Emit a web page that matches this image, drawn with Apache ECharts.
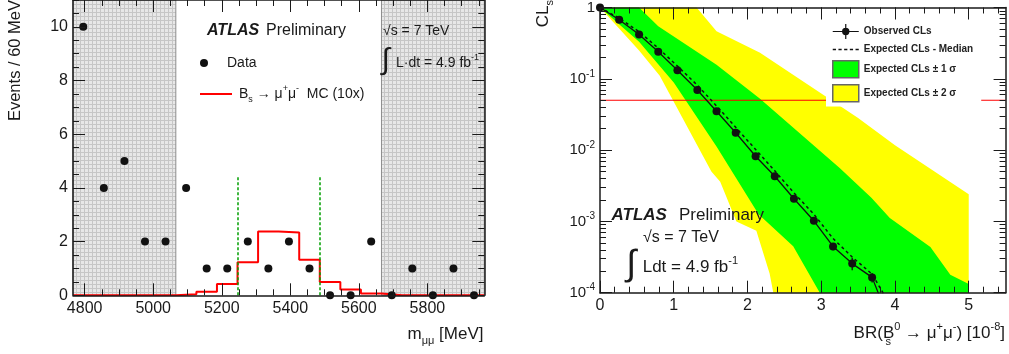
<!DOCTYPE html>
<html>
<head>
<meta charset="utf-8">
<script src="https://cdn.jsdelivr.net/npm/echarts@6/dist/echarts.min.js"></script>
<style>
  html, body { margin: 0; padding: 0; background: #fff; }
  #main { width: 1009px; height: 354px; }
</style>
</head>
<body>
<div id="main"></div>
<script>
// ---- left panel: dimuon mass spectrum ----
var massCenters = [4796, 4856, 4916, 4976, 5036, 5096, 5156, 5216, 5276, 5336, 5396, 5456, 5516, 5576, 5636, 5696, 5756, 5816, 5876, 5936];
var dataCounts = [10, 4, 5, 2, 2, 4, 1, 1, 2, 1, 2, 1, 0, 0, 2, 0, 1, 0, 1, 0];
var mcEdges = [4766, 4826, 4886, 4946, 5006, 5066, 5126, 5186, 5246, 5306, 5366, 5426, 5486, 5546, 5606, 5666, 5726, 5786, 5846, 5906, 5966];
var mcValues = [0, 0, 0, 0, 0, 0.04, 0.13, 0.42, 1.23, 2.38, 2.34, 1.32, 0.5, 0.22, 0.07, 0, 0, 0, 0, 0];
var sidebands = [[4766, 5066], [5666, 5966]];
var signalWindow = [5246, 5486];
var windowTop = 4.4;
var massTicks = [4800, 5000, 5200, 5400, 5600, 5800];
var countTicks = [0, 2, 4, 6, 8, 10];

// ---- right panel: CLs scan ----
var brPoints = [0, 0.26, 0.53, 0.79, 1.05, 1.32, 1.58, 1.84, 2.11, 2.37, 2.63, 2.9, 3.16, 3.42, 3.69, 3.95];
var clsObserved = [1, 0.673, 0.417, 0.24, 0.132, 0.0697, 0.035, 0.0175, 0.0082, 0.0043, 0.00208, 0.00102, 0.000445, 0.000256, 0.000164, 0.000034];
var clsObservedErr = [0, 0, 0, 0, 0, 0, 0, 0, 0, 0, 0, 0, 0.00005, 0.00005, 0.000025, 0];
var clsExpected = [1, 0.708, 0.457, 0.269, 0.151, 0.0813, 0.0417, 0.0209, 0.0102, 0.00513, 0.00251, 0.00126, 0.000575, 0.000316, 0.000182, 0.000063];

var band2UpX = [0, 1.31, 1.58, 2.17, 3.5, 4.0, 5.0];
var band2Up = [1, 1, 0.465, 0.232, 0.0282, 0.0117, 0.0024];
var band1UpX = [0, 0.53, 0.79, 1.58, 2.17, 3.25, 3.68, 3.93, 4.48, 4.75, 5.0];
var band1Up = [1, 1, 0.545, 0.158, 0.0525, 0.00562, 0.00214, 0.00112, 0.000437, 0.000178, 0.000132];
var band1LoX = [0, 0.53, 1.0, 1.58, 2.15, 2.62, 2.98, 5.0];
var band1Lo = [1, 0.33, 0.089, 0.0112, 0.00126, 0.000447, 0.0001, 0.0001];
var band2LoX = [0, 0.53, 0.81, 1.51, 1.63, 1.85, 2.12, 2.30, 2.35, 5.0];
var band2Lo = [1, 0.25, 0.11, 0.005, 0.0036, 0.001, 0.00074, 0.000186, 0.0001, 0.0001];
var clLimit = 0.05;
var brTicks = [0, 1, 2, 3, 4, 5];
var clsTicks = [0.0001, 0.001, 0.01, 0.1, 1];

var FONT = '"Liberation Sans", Arial, Helvetica, sans-serif';
var INK = '#1a1a1a';

// minor tick positions
var massMinor = [];
for (var m = 4800; m < 5966; m += 50) massMinor.push(m);
var countMinor = [];
for (var c = 0; c <= 11; c += 0.5) countMinor.push(c);
var brMinor = [];
for (var b = 0; b <= 27; b++) brMinor.push(b * 0.2);
var clsMinor = [];
for (var d = -4; d < 0; d++) for (var k = 2; k <= 9; k++) clsMinor.push(k * Math.pow(10, d));

// grey sideband fill pattern
var hatch = document.createElement('canvas');
hatch.width = 4; hatch.height = 4;
var hc = hatch.getContext('2d');
hc.fillStyle = '#e7e7e7'; hc.fillRect(0, 0, 4, 4);
hc.fillStyle = '#c6c6c6'; hc.fillRect(0, 0, 4, 1); hc.fillRect(0, 0, 1, 4);

function axis(grid, pos, type, min, max, ticks, len, withLine, labels, extra) {
  var a = {
    gridIndex: grid, position: pos, type: type, min: min, max: max, z: 10,
    axisLine: { show: withLine, onZero: false, lineStyle: { color: INK, width: 1.5 } },
    axisTick: { show: true, inside: true, length: len, customValues: ticks, lineStyle: { color: INK, width: 1 } },
    axisLabel: labels ? labels : { show: false },
    splitLine: { show: false }
  };
  if (type === 'log') a.logBase = 10;
  return Object.assign(a, extra || {});
}

function plainLabels(values) {
  return {
    customValues: values, fontSize: 16, fontFamily: FONT, color: INK, margin: 5,
    formatter: function (v) { return String(v); }
  };
}

var xAxes = [
  axis(0, 'bottom', 'value', 4766, 5966, massTicks, 12, true, plainLabels(massTicks)),
  axis(0, 'bottom', 'value', 4766, 5966, massMinor, 6, false),
  axis(0, 'top', 'value', 4766, 5966, massTicks, 12, true),
  axis(0, 'top', 'value', 4766, 5966, massMinor, 6, false),
  axis(1, 'bottom', 'value', 0, 5.5, brTicks, 12, true, plainLabels(brTicks)),
  axis(1, 'bottom', 'value', 0, 5.5, brMinor, 6, false),
  axis(1, 'top', 'value', 0, 5.5, brTicks, 12, true),
  axis(1, 'top', 'value', 0, 5.5, brMinor, 6, false)
];

var yAxes = [
  axis(0, 'left', 'value', 0, 11, countTicks, 12, true, plainLabels(countTicks)),
  axis(0, 'left', 'value', 0, 11, countMinor, 6, false),
  axis(0, 'right', 'value', 0, 11, countTicks, 12, true),
  axis(0, 'right', 'value', 0, 11, countMinor, 6, false),
  axis(1, 'left', 'log', 0.0001, 1, clsTicks, 12, true, {
    customValues: clsTicks, margin: 5, color: INK, fontFamily: FONT,
    formatter: function (v) {
      var e = Math.round(Math.log10(v));
      return e === 0 ? '{b|1}' : '{b|10}{s|' + e + '}';
    },
    rich: {
      b: { fontSize: 15, fontFamily: FONT, color: INK, lineHeight: 20 },
      s: { fontSize: 10, fontFamily: FONT, color: INK, verticalAlign: 'top' }
    }
  }),
  axis(1, 'left', 'log', 0.0001, 1, clsMinor, 6, false),
  axis(1, 'right', 'log', 0.0001, 1, clsTicks, 12, true),
  axis(1, 'right', 'log', 0.0001, 1, clsMinor, 6, false)
];

// histogram outline from bin edges
var mcLine = mcValues.map(function (v, i) { return [mcEdges[i], v]; });
mcLine.push([mcEdges[mcEdges.length - 1], mcValues[mcValues.length - 1]]);

function bandRender(upX, up, loX, lo, fill) {
  return function (params, api) {
    var pts = [];
    for (var i = 0; i < upX.length; i++) pts.push(api.coord([upX[i], up[i]]));
    for (var j = loX.length - 1; j >= 0; j--) pts.push(api.coord([loX[j], lo[j]]));
    return { type: 'polygon', shape: { points: pts }, style: { fill: fill } };
  };
}

var errData = [];
brPoints.forEach(function (x, i) {
  if (clsObservedErr[i] > 0) errData.push([x, clsObserved[i] - clsObservedErr[i], clsObserved[i] + clsObservedErr[i]]);
});

var rich = {
  t: { fontSize: 17, fontFamily: FONT, color: INK, lineHeight: 24 },
  sub: { fontSize: 11, fontFamily: FONT, color: INK, verticalAlign: 'bottom' },
  sup: { fontSize: 11, fontFamily: FONT, color: INK, verticalAlign: 'top' }
};
var richSmall = {
  t: { fontSize: 14, fontFamily: FONT, color: INK, lineHeight: 20 },
  sub: { fontSize: 9, fontFamily: FONT, color: INK, verticalAlign: 'bottom' },
  sup: { fontSize: 9, fontFamily: FONT, color: INK, verticalAlign: 'top' }
};

function txt(x, y, text, opts) {
  return {
    type: 'text', x: x, y: y, z: 20, rotation: opts.rotation || 0,
    style: Object.assign({ text: text, fill: INK, fontFamily: FONT, verticalAlign: 'middle', align: 'left' }, opts.style)
  };
}

// legend icons (all sub-paths clockwise so the filled parts add up)
var iconObserved = 'path://M0,7.9 L26,7.9 L26,9.1 L0,9.1 Z M12.4,1 L13.6,1 L13.6,16 L12.4,16 Z M9.3,8.5 A3.7,3.7 0 1 1 16.7,8.5 A3.7,3.7 0 1 1 9.3,8.5 Z';
var iconDashed = 'path://M0,0 h3 v1.3 h-3 z M5.3,0 h3 v1.3 h-3 z M10.6,0 h3 v1.3 h-3 z M15.9,0 h3 v1.3 h-3 z M21.2,0 h3 v1.3 h-3 z';
var iconRedLine = 'path://M0,0 H32 V2 H0 Z';

var option = {
  animation: false,
  backgroundColor: '#fff',
  grid: [
    { left: 73, top: 0, width: 411.3, height: 295.3 },
    { left: 600, top: 4.3, width: 405.6, height: 288.4 }
  ],
  xAxis: xAxes,
  yAxis: yAxes,
  legend: [
    {
      data: [
        { name: 'Observed CLs', icon: iconObserved, itemStyle: { color: '#111', borderWidth: 0 } },
        { name: 'Expected CLs - Median', icon: iconDashed, itemStyle: { color: '#111', borderWidth: 0 } },
        { name: 'Expected CLs ± 1 σ', icon: 'rect', itemStyle: { color: '#00ff00', borderColor: '#666', borderWidth: 1.5 } },
        { name: 'Expected CLs ± 2 σ', icon: 'rect', itemStyle: { color: '#ffff00', borderColor: '#666', borderWidth: 1.5 } }
      ],
      left: 826, top: 15, orient: 'vertical', itemWidth: 26, itemHeight: 17, itemGap: 5.5,
      padding: [9, 8, 4, 6], backgroundColor: '#fff', selectedMode: false,
      textStyle: { fontSize: 10, fontWeight: 'bold', fontFamily: FONT, color: '#222' }
    },
    {
      data: [{ name: 'Data', icon: 'circle', itemStyle: { color: '#111', opacity: 1 } }],
      left: 200, top: 54, itemWidth: 32, itemHeight: 8, padding: 0, selectedMode: false,
      textStyle: { fontSize: 14, fontFamily: FONT, color: INK, lineHeight: 18, padding: [0, 0, 0, 2] }
    },
    {
      data: [{ name: 'MC', icon: iconRedLine, itemStyle: { color: '#ff0000', borderWidth: 0 } }],
      left: 200, top: 84, itemWidth: 32, itemHeight: 8, padding: 0, selectedMode: false,
      formatter: function () {
        return '{t|B}{sub|s}{t| → μ}{sup|+}{t|μ}{sup|-}{t|  MC (10x)}';
      },
      textStyle: { fontSize: 14, fontFamily: FONT, color: INK, padding: [0, 0, 0, 2], rich: richSmall }
    }
  ],
  series: [
    {
      name: 'sidebands', type: 'custom', xAxisIndex: 0, yAxisIndex: 0, z: 1,
      data: sidebands, encode: { x: [0, 1] },
      renderItem: function (params, api) {
        var x0 = api.coord([api.value(0), 0])[0];
        var x1 = api.coord([api.value(1), 0])[0];
        var cs = params.coordSys;
        return {
          type: 'rect',
          shape: { x: x0, y: cs.y, width: x1 - x0, height: cs.height },
          style: { fill: { image: hatch, repeat: 'repeat' }, stroke: '#8c8c8c', lineWidth: 1 }
        };
      }
    },
    {
      name: 'MC', type: 'line', xAxisIndex: 0, yAxisIndex: 0, z: 3,
      data: mcLine, step: 'end', symbol: 'none',
      itemStyle: { color: '#ff0000' },
      lineStyle: { color: '#ff0000', width: 2 },
      markLine: {
        silent: true, symbol: 'none', label: { show: false },
        lineStyle: { color: '#00a000', width: 1.5, type: [3, 2] },
        data: signalWindow.map(function (x) { return [{ coord: [x, 0] }, { coord: [x, windowTop] }]; })
      }
    },
    {
      name: 'Data', type: 'scatter', xAxisIndex: 0, yAxisIndex: 0, z: 5,
      data: massCenters.map(function (x, i) { return [x, dataCounts[i]]; }),
      symbolSize: 8, itemStyle: { color: '#111', opacity: 1 }
    },
    {
      name: 'Expected CLs ± 2 σ', type: 'custom', xAxisIndex: 4, yAxisIndex: 4, z: 1,
      data: [[0, 1]], itemStyle: { color: '#ffff00' },
      renderItem: bandRender(band2UpX, band2Up, band2LoX, band2Lo, '#ffff00')
    },
    {
      name: 'Expected CLs ± 1 σ', type: 'custom', xAxisIndex: 4, yAxisIndex: 4, z: 1,
      data: [[0, 1]], itemStyle: { color: '#00ff00' },
      renderItem: bandRender(band1UpX, band1Up, band1LoX, band1Lo, '#00ff00')
    },
    {
      name: 'CL95', type: 'line', xAxisIndex: 4, yAxisIndex: 4, z: 2,
      data: [[0, clLimit], [5.5, clLimit]], symbol: 'none',
      lineStyle: { color: '#ff0000', width: 1.2 }
    },
    {
      name: 'Expected CLs - Median', type: 'line', xAxisIndex: 4, yAxisIndex: 4, z: 3,
      data: brPoints.map(function (x, i) { return [x, clsExpected[i]]; }),
      symbol: 'none', itemStyle: { color: '#111' },
      lineStyle: { color: '#111', width: 1.5, type: [3, 3] }
    },
    {
      name: 'Observed CLs', type: 'line', xAxisIndex: 4, yAxisIndex: 4, z: 4,
      data: brPoints.map(function (x, i) { return [x, clsObserved[i]]; }),
      symbol: 'circle', symbolSize: 8, showAllSymbol: true,
      itemStyle: { color: '#111', opacity: 1 }, lineStyle: { color: '#111', width: 1.3 }
    },
    {
      name: 'errors', type: 'custom', xAxisIndex: 4, yAxisIndex: 4, z: 4,
      data: errData, encode: { x: 0, y: [1, 2] },
      renderItem: function (params, api) {
        var lo = api.coord([api.value(0), api.value(1)]);
        var hi = api.coord([api.value(0), api.value(2)]);
        return { type: 'line', shape: { x1: lo[0], y1: lo[1], x2: hi[0], y2: hi[1] }, style: { stroke: '#111', lineWidth: 1.3 } };
      }
    }
  ],
  graphic: [
    // left panel
    txt(15.5, 0, 'Events / 60 MeV', { rotation: Math.PI / 2, style: { fontSize: 16.5, align: 'right' } }),
    txt(483.5, 334, '{t|m}{sub|μμ}{t| [MeV]}', { style: { align: 'right', rich: rich } }),
    txt(207, 31, 'ATLAS', { style: { fontSize: 16, fontWeight: 'bold', fontStyle: 'italic' } }),
    txt(266, 31, 'Preliminary', { style: { fontSize: 16 } }),
    txt(383, 31, '√s = 7 TeV', { style: { fontSize: 14 } }),
    txt(385.5, 60.5, '∫', { style: { fontSize: 30, align: 'center' } }),
    txt(396, 63.3, '{t|L·dt = 4.9 fb}{sup|-1}', { style: { rich: richSmall } }),
    // right panel
    txt(543, 0, '{t|CL}{sub|s}', { rotation: Math.PI / 2, style: { align: 'right', rich: rich } }),
    txt(1005, 333, '{t|BR(B}{sup|0}{t| → μ}{sup|+}{t|μ}{sup|-}{t|) [10}{sup|-8}{t|]}', { style: { align: 'right', rich: rich } }),
    txt(885.5, 341.5, 's', { style: { fontSize: 11 } }),
    txt(611.5, 215, 'ATLAS', { style: { fontSize: 17, fontWeight: 'bold', fontStyle: 'italic' } }),
    txt(679, 215, 'Preliminary', { style: { fontSize: 17 } }),
    txt(643, 237.3, '√s = 7 TeV', { style: { fontSize: 16 } }),
    txt(631.5, 265, '∫', { style: { fontSize: 36, align: 'center' } }),
    txt(642.7, 267.3, '{t|Ldt = 4.9 fb}{sup|-1}', { style: { rich: rich } })
  ]
};

var chart = echarts.init(document.getElementById('main'));
chart.setOption(option);
</script>
</body>
</html>
